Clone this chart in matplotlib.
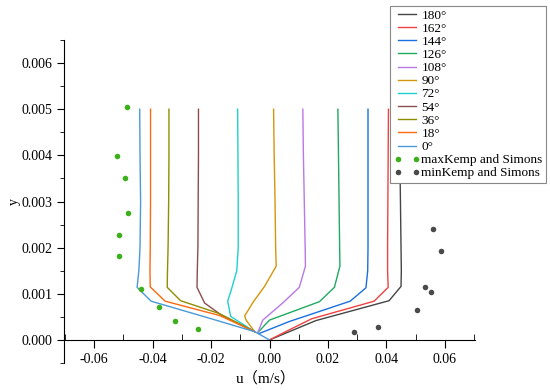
import matplotlib
matplotlib.use('Agg')
import matplotlib.pyplot as plt
from matplotlib.ticker import MultipleLocator, FormatStrFormatter

# velocity profiles u (m/s) vs y, one per phase angle
y_180 = [0.005, 0.004, 0.003, 0.002, 0.0015, 0.00116, 0.00085, 0.00042, 0.00018, 0.0]
u_180 = [0.0444, 0.0446, 0.0448, 0.0450, 0.0451, 0.0450, 0.0409, 0.0159, 0.0068, 0.0]
y_162 = [0.005, 0.004, 0.003, 0.002, 0.0015, 0.00114, 0.00084, 0.00046, 0.00022, 0.0]
u_162 = [0.0407, 0.0406, 0.0405, 0.0404, 0.0404, 0.0406, 0.0358, 0.0145, 0.0068, 0.0]
y_144 = [0.005, 0.004, 0.003, 0.002, 0.0015, 0.00113, 0.00084, 0.0004, 0.00014]
u_144 = [0.0337, 0.0337, 0.0337, 0.0337, 0.0336, 0.0330, 0.0276, 0.0068, -0.0035]
y_126 = [0.005, 0.004, 0.003, 0.002, 0.0016, 0.00114, 0.00083, 0.00043, 0.00016]
u_126 = [0.0234, 0.0236, 0.0238, 0.0240, 0.0241, 0.0222, 0.0171, 0.0, -0.0040]
y_108 = [0.005, 0.004, 0.003, 0.002, 0.0016, 0.00114, 0.0008, 0.00043, 0.00016]
u_108 = [0.0114, 0.0116, 0.0119, 0.0122, 0.0123, 0.0102, 0.0045, -0.0023, -0.0040]
y_90 = [0.005, 0.004, 0.003, 0.002, 0.0016, 0.00116, 0.00083, 0.00052, 0.00043, 0.00018]
u_90 = [0.0014, 0.0016, 0.0019, 0.0021, 0.0023, -0.0017, -0.0055, -0.0085, -0.0080, -0.0051]
y_72 = [0.005, 0.004, 0.003, 0.002, 0.0015, 0.00108, 0.00084, 0.00051, 0.00018]
u_72 = [-0.0109, -0.0108, -0.0107, -0.0107, -0.0112, -0.0131, -0.0143, -0.0133, -0.0051]
y_54 = [0.005, 0.004, 0.003, 0.002, 0.0015, 0.00114, 0.0008, 0.00054, 0.00018]
u_54 = [-0.0243, -0.0243, -0.0244, -0.0245, -0.0247, -0.0248, -0.0222, -0.0165, -0.0051]
y_36 = [0.005, 0.004, 0.003, 0.002, 0.0015, 0.00114, 0.00085, 0.00057, 0.00018]
u_36 = [-0.0344, -0.0344, -0.0345, -0.0347, -0.0349, -0.0350, -0.0304, -0.0171, -0.0051]
y_18 = [0.005, 0.004, 0.003, 0.002, 0.0015, 0.00115, 0.00084, 0.00053, 0.00018]
u_18 = [-0.0407, -0.0407, -0.0407, -0.0408, -0.0409, -0.0408, -0.0357, -0.0171, -0.0051]
y_0 = [0.005, 0.004, 0.003, 0.002, 0.0015, 0.00114, 0.00084, 0.00046, 0.00018, 0.0]
u_0 = [-0.0444, -0.0443, -0.0441, -0.0443, -0.0447, -0.0453, -0.0405, -0.0200, -0.0051, 0.0]

# Kemp and Simons measurements
u_max = [-0.0489, -0.0521, -0.0495, -0.0484, -0.0514, -0.0514, -0.0438, -0.0378, -0.0322, -0.0245]
y_max = [0.00505, 0.00398, 0.00351, 0.00276, 0.00228, 0.00182, 0.0011, 0.00072, 0.00041, 0.00023]
u_min = [0.0586, 0.0558, 0.0586, 0.0532, 0.0552, 0.0503, 0.0372, 0.0290]
y_min = [0.00346, 0.0024, 0.00192, 0.00114, 0.00104, 0.00064, 0.00027, 0.00018]

profiles = [
    ('180°', u_180, y_180, '#454545'),
    ('162°', u_162, y_162, '#f14040'),
    ('144°', u_144, y_144, '#1a6fdf'),
    ('126°', u_126, y_126, '#1eaa60'),
    ('108°', u_108, y_108, '#b978e6'),
    ('90°', u_90, y_90, '#d4960a'),
    ('72°', u_72, y_72, '#1fd0d0'),
    ('54°', u_54, y_54, '#8a4e4e'),
    ('36°', u_36, y_36, '#8e8e00'),
    ('18°', u_18, y_18, '#fb6a10'),
    ('0°', u_0, y_0, '#4a9ad8'),
]

plt.rcParams['font.family'] = ['Liberation Serif', 'Noto Sans CJK SC']
plt.rcParams['font.size'] = 9

fig = plt.figure(figsize=(5.5, 3.9), dpi=100)
ax = fig.add_axes([0.1164, 0.0692, 0.7472, 0.8282])

for name, u, y, c in profiles:
    ax.plot(u, y, color=c, lw=1.0, label=name)

ax.plot(u_max, y_max, ls='none', marker='o', ms=4, color='#3cb01a', mec='none',
        label='maxKemp and Simons')
ax.plot(u_min, y_min, ls='none', marker='o', ms=4, color='#4a4a4a', mec='none',
        label='minKemp and Simons')

ax.set_xlim(-0.0703, 0.0703)
ax.set_ylim(-0.0005, 0.0065)

ax.spines['top'].set_visible(False)
ax.spines['right'].set_visible(False)
ax.spines['bottom'].set_position(('data', 0))

ax.xaxis.set_major_locator(MultipleLocator(0.02))
ax.xaxis.set_minor_locator(MultipleLocator(0.01))
ax.xaxis.set_major_formatter(FormatStrFormatter('%.2f'))
ax.yaxis.set_major_locator(MultipleLocator(0.001))
ax.yaxis.set_minor_locator(MultipleLocator(0.0005))
ax.yaxis.set_major_formatter(FormatStrFormatter('%.3f'))
ax.set_yticks([0, 0.001, 0.002, 0.003, 0.004, 0.005, 0.006])
ax.tick_params(axis='x', which='major', direction='out', length=6, labelsize=10)
ax.tick_params(axis='x', which='minor', direction='in', length=4)
ax.tick_params(axis='y', which='major', direction='out', length=5, labelsize=10)
ax.tick_params(axis='y', which='minor', direction='out', length=3)

ax.set_xlabel('u（m/s）', fontsize=11)
ax.set_ylabel('y', fontsize=10, labelpad=0)
ax.xaxis.set_label_coords(0.49, -0.025)

leg = fig.legend(loc='upper right', bbox_to_anchor=(546 / 550, 1 - 6 / 390), borderaxespad=0,
                 fontsize=9.5, numpoints=2, handlelength=2.0, handletextpad=0.1,
                 labelspacing=0.07, borderpad=0.25, fancybox=False, framealpha=1)
leg.get_frame().set_edgecolor('#888888')
leg.get_frame().set_linewidth(0.8)

fig.savefig('out.png', dpi=100)
